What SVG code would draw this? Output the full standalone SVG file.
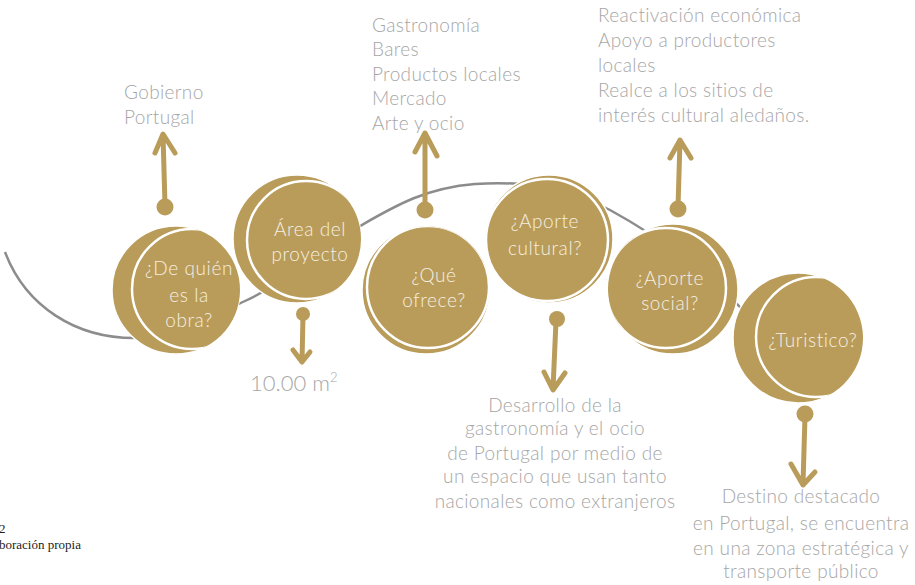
<svg xmlns="http://www.w3.org/2000/svg" width="915" height="585" viewBox="0 0 915 585">
<style>
.bg{fill:#ffffff}
.curve{fill:none;stroke:#8c8c8c;stroke-width:2.5}
.outer{fill:#b99c5a;stroke:#ffffff;stroke-width:1.5}
.inner{fill:#b99c5a;stroke:#ffffff;stroke-width:2.5}
.ntext{font-family:"Lato","Liberation Sans",sans-serif;font-weight:300;font-size:19px;fill:#f6efe1;text-anchor:middle;letter-spacing:0.6px}
.ltext{font-family:"Lato","Liberation Sans",sans-serif;font-weight:300;font-size:19px;fill:#a6a6a6;letter-spacing:0.35px}
.ctext{text-anchor:middle}
.conn{fill:none;stroke:#b99c5a;stroke-width:5;stroke-linecap:round;stroke-linejoin:round}
.dot{fill:#b99c5a}
.cap{font-family:"Liberation Serif",serif;font-size:13px;fill:#222222}
</style>
<defs>
<clipPath id="c1"><circle cx="176" cy="290" r="64"/></clipPath>
<clipPath id="c2"><circle cx="297" cy="239" r="64"/></clipPath>
<clipPath id="c3"><circle cx="426" cy="290" r="64"/></clipPath>
<clipPath id="c4"><circle cx="549" cy="239" r="64"/></clipPath>
<clipPath id="c5"><circle cx="673" cy="289" r="65"/></clipPath>
<clipPath id="c6"><circle cx="798" cy="338" r="65"/></clipPath>
</defs>
<rect class="bg" x="0" y="0" width="915" height="585"/>
<g id="connectors">
<path class="curve" d="M5,252 C25,305 75,340 140,338 C180,336 210,318 245,301 C300,275 330,242 360,226 C395,206 425,188 475,184 C530,180 570,190 610,210 C650,232 700,265 745,312"/>
<g id="c-gobierno"><circle class="dot" cx="165" cy="207" r="8.5"/><path class="conn" d="M165,205 L163,135 M155,153 L163,134 L175,153"/></g>
<g id="c-area"><circle class="dot" cx="303" cy="314" r="7"/><path class="conn" d="M303,316 L302,361 M293,350 L302,362 L310,352"/></g>
<g id="c-ofrece"><circle class="dot" cx="425" cy="210" r="8.5"/><path class="conn" d="M425,208 L425,134 M415,152 L425,133 L437,156"/></g>
<g id="c-cultural"><circle class="dot" cx="557" cy="319" r="8"/><path class="conn" d="M556,321 L553,389 M544,372 L553,390 L565,373"/></g>
<g id="c-social"><circle class="dot" cx="678" cy="209" r="8.5"/><path class="conn" d="M678,207 L680,141 M670,158 L680,140 L691,158"/></g>
<g id="c-turistico"><circle class="dot" cx="805" cy="414" r="8.5"/><path class="conn" d="M805,416 L803,484 M791,464 L803,485 L815,472"/></g>
</g>
<g id="n1">
<circle class="outer" cx="176" cy="290" r="64"/>
<circle class="inner" cx="192" cy="289" r="60" clip-path="url(#c1)"/>
<text class="ntext" x="189" y="275">¿De quién</text>
<text class="ntext" x="189" y="302">es la</text>
<text class="ntext" x="189" y="327">obra?</text>
</g>
<g id="n2">
<circle class="outer" cx="297" cy="239" r="64"/>
<circle class="inner" cx="306" cy="240" r="59" clip-path="url(#c2)"/>
<text class="ntext" x="310" y="236">Área del</text>
<text class="ntext" x="310" y="261">proyecto</text>
</g>
<g id="n3">
<circle class="outer" cx="426" cy="290" r="64"/>
<circle class="inner" cx="428" cy="287" r="61" clip-path="url(#c3)"/>
<text class="ntext" x="434" y="282">¿Qué</text>
<text class="ntext" x="434" y="307">ofrece?</text>
</g>
<g id="n4">
<circle class="outer" cx="549" cy="239" r="64"/>
<circle class="inner" cx="547" cy="240" r="61" clip-path="url(#c4)"/>
<text class="ntext" x="545" y="228">¿Aporte</text>
<text class="ntext" x="545" y="255">cultural?</text>
</g>
<g id="n5">
<circle class="outer" cx="673" cy="289" r="65"/>
<circle class="inner" cx="666" cy="288" r="60" clip-path="url(#c5)"/>
<text class="ntext" x="670" y="285">¿Aporte</text>
<text class="ntext" x="670" y="310">social?</text>
</g>
<g id="n6">
<circle class="outer" cx="798" cy="338" r="65"/>
<circle class="inner" cx="816" cy="337" r="60" clip-path="url(#c6)"/>
<text class="ntext" x="813" y="347">¿Turistico?</text>
</g>
<g id="labels">
<text class="ltext" x="124" y="99">Gobierno</text>
<text class="ltext" x="124" y="124">Portugal</text>
<text class="ltext" x="372" y="32">Gastronomía</text>
<text class="ltext" x="372" y="56">Bares</text>
<text class="ltext" x="372" y="81">Productos locales</text>
<text class="ltext" x="372" y="105">Mercado</text>
<text class="ltext" x="372" y="130">Arte y ocio</text>
<text class="ltext" x="598" y="22">Reactivación económica</text>
<text class="ltext" x="598" y="47">Apoyo a productores</text>
<text class="ltext" x="598" y="72">locales</text>
<text class="ltext" x="598" y="97">Realce a los sitios de</text>
<text class="ltext" x="598" y="122">interés cultural aledaños.</text>
<text class="ltext" x="250" y="391" style="font-size:22px;letter-spacing:0">10.00 m<tspan dy="-9" style="font-size:13px">2</tspan></text>
<text class="ltext ctext" x="555" y="412">Desarrollo de la</text>
<text class="ltext ctext" x="555" y="435">gastronomía y el ocio</text>
<text class="ltext ctext" x="555" y="460">de Portugal por medio de</text>
<text class="ltext ctext" x="555" y="483">un espacio que usan tanto</text>
<text class="ltext ctext" x="555" y="508">nacionales como extranjeros</text>
<text class="ltext ctext" x="801" y="503">Destino destacado</text>
<text class="ltext ctext" x="801" y="530">en Portugal, se encuentra</text>
<text class="ltext ctext" x="801" y="555">en una zona estratégica y</text>
<text class="ltext ctext" x="801" y="578">transporte público</text>
<text class="cap" x="-1" y="533">2</text>
<text class="cap" x="-1" y="549">boración propia</text>
</g>
</svg>
